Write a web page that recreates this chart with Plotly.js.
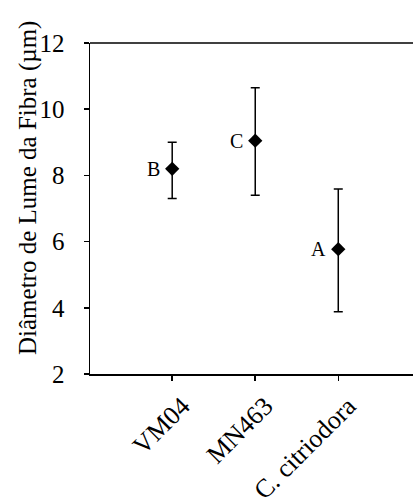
<!DOCTYPE html>
<html><head><meta charset="utf-8">
<script src="https://cdn.plot.ly/plotly-3.0.1.min.js"></script>
<style>html,body{margin:0;padding:0;background:#fff;overflow:hidden;}#chart{width:417px;height:504px;}</style>
</head><body><div id="chart"></div>
<script>
const categories = ["VM04", "MN463", "C. citriodora"];
const means = [8.2, 9.05, 5.77];
const errPlus = [0.8, 1.6, 1.82];
const errMinus = [0.9, 1.65, 1.89];
const letters = ["B", "C", "A"];
const yTicks = [2, 4, 6, 8, 10, 12];

const serif = "Liberation Serif, Times New Roman, serif";
const xs = categories.map((c, i) => i);

const trace = {
  x: xs,
  y: means,
  mode: "markers",
  type: "scatter",
  marker: {symbol: "diamond", size: 11, color: "#000"},
  error_y: {type: "data", symmetric: false, array: errPlus, arrayminus: errMinus,
            color: "#000", thickness: 1.5, width: 4.5},
  cliponaxis: false,
  hoverinfo: "skip"
};

const letterNotes = letters.map((t, i) => ({
  x: xs[i], y: means[i], xref: "x", yref: "y", text: t, showarrow: false,
  xanchor: "right", yanchor: "middle", xshift: -10,
  font: {family: serif, size: 20, color: "#000"}
}));

const layout = {
  width: 417, height: 504,
  margin: {l: 90, r: 4, t: 43, b: 130},
  paper_bgcolor: "#fff", plot_bgcolor: "#fff",
  showlegend: false,
  font: {family: serif, color: "#000"},
  xaxis: {
    range: [-0.99, 2.90],
    tickmode: "array",
    tickvals: xs,
    ticktext: categories,
    tickangle: -45,
    ticks: "outside", ticklen: 5, tickwidth: 1.5, tickcolor: "#000",
    showline: true, linecolor: "#000", linewidth: 1.5,
    showgrid: false, zeroline: false,
    ticklabelstandoff: 0,
    ticklabelshift: 10,
    tickfont: {family: serif, size: 26, color: "#000"}
  },
  yaxis: {
    range: [2, 12],
    tickvals: yTicks,
    ticks: "outside", ticklen: 5, tickwidth: 1.5, tickcolor: "#000",
    showline: true, linecolor: "#000", linewidth: 1.5,
    showgrid: false, zeroline: false,
    ticklabelstandoff: 14,
    tickfont: {family: serif, size: 25, color: "#000"}
  },
  annotations: [{
    text: "Diâmetro de Lume da Fibra (µm)", xref: "paper", yref: "paper",
    x: -62 / 323, y: (374 - 188) / 331, xanchor: "center", yanchor: "middle",
    textangle: -90, showarrow: false,
    font: {family: serif, size: 25, color: "#000"}
  }].concat(letterNotes),
  shapes: [
    {type: "line", xref: "paper", yref: "paper", x0: 0, x1: 1, y0: 1, y1: 1,
     line: {color: "#000", width: 1.5}}
  ]
};

Plotly.newPlot("chart", [trace], layout, {displayModeBar: false, staticPlot: true});
</script>
</body></html>
